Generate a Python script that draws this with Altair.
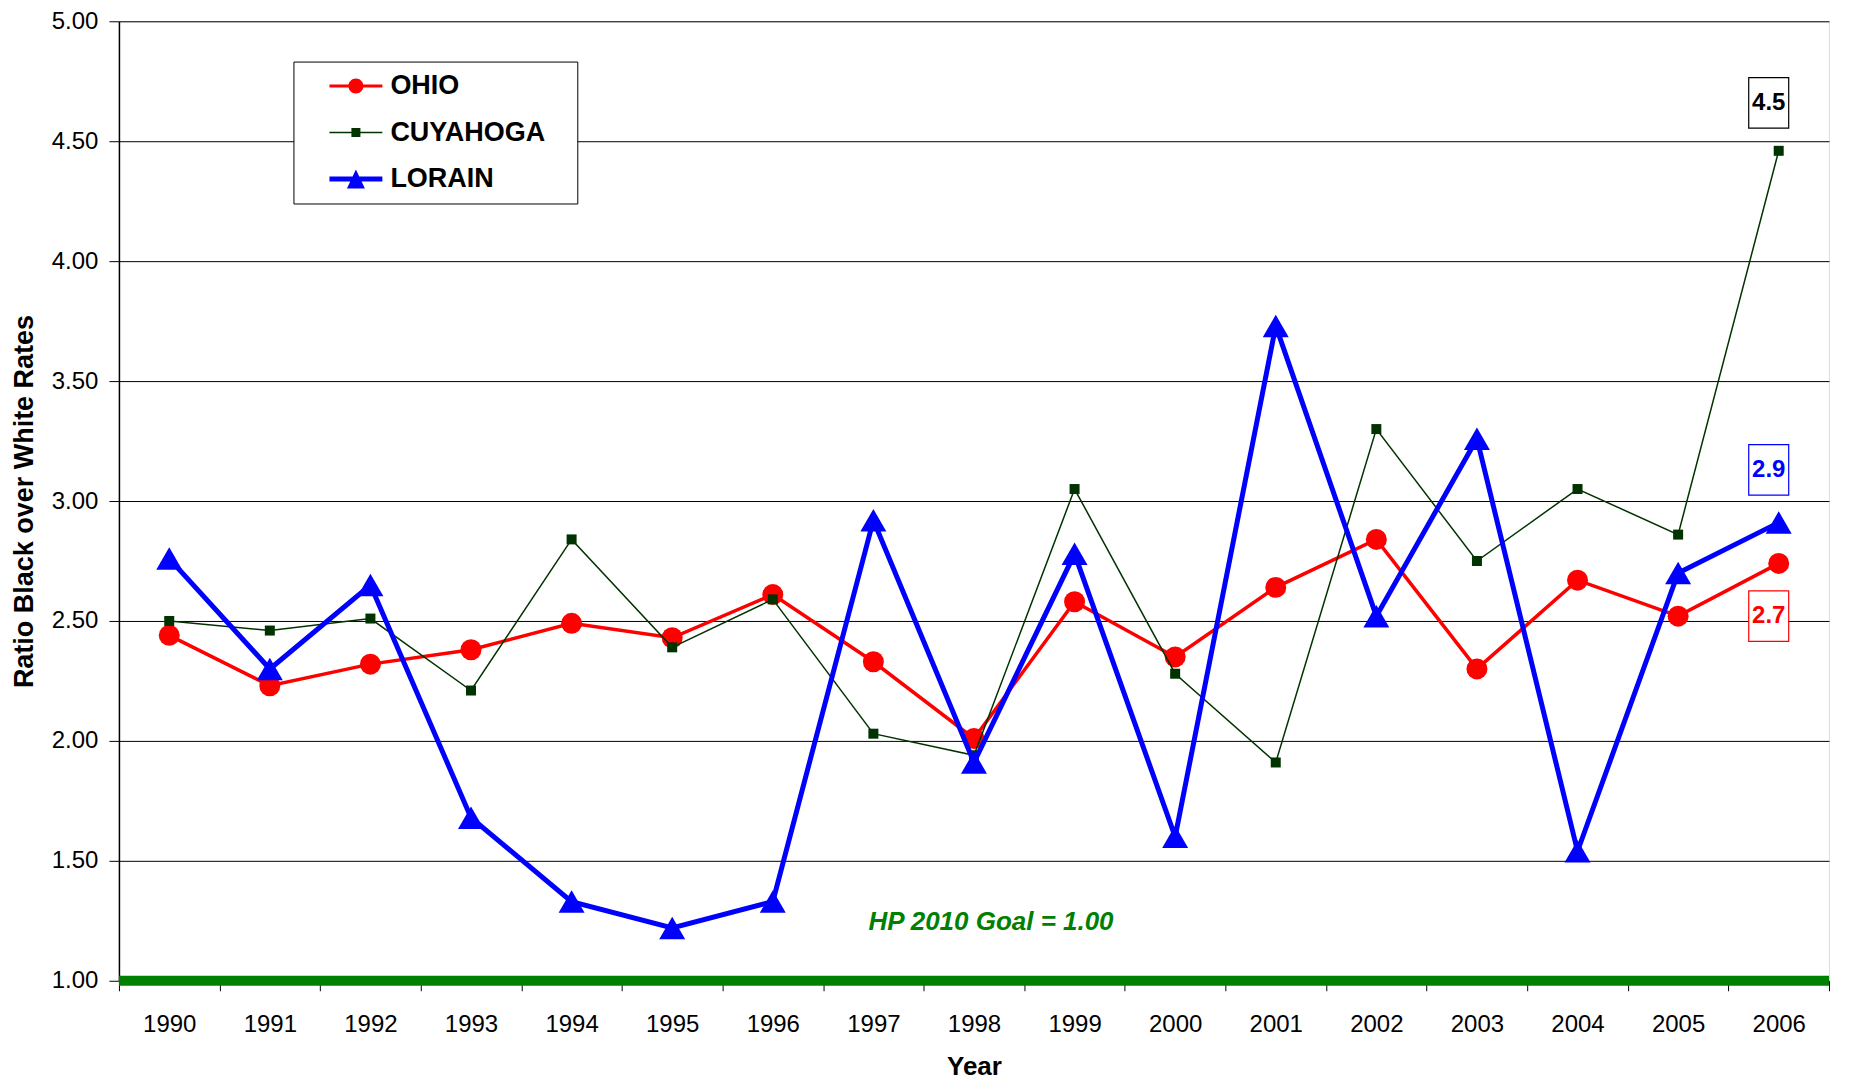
import altair as alt
import pandas as pd

# ---------------- data ----------------
years = [str(y) for y in range(1990, 2007)]
series_names = ["OHIO", "CUYAHOGA", "LORAIN"]
ohio = [2.44, 2.23, 2.32, 2.38, 2.49, 2.43, 2.61, 2.33, 2.01, 2.58, 2.35, 2.64, 2.84, 2.30, 2.67, 2.52, 2.74]
cuyahoga = [2.50, 2.46, 2.51, 2.21, 2.84, 2.39, 2.59, 2.03, 1.94, 3.05, 2.28, 1.91, 3.30, 2.75, 3.05, 2.86, 4.46]
lorain = [2.76, 2.30, 2.65, 1.68, 1.33, 1.22, 1.33, 2.92, 1.91, 2.78, 1.60, 3.73, 2.52, 3.26, 1.54, 2.70, 2.91]
series_values = [ohio, cuyahoga, lorain]

series_colors = ["#FF0000", "#003300", "#0000FF"]
line_widths = [3.5, 1.5, 5]
marker_shapes = ["circle", "square", "triangle-up"]
marker_sizes = [441, 100, 676]

# end-of-series callout boxes
label_texts = ["4.5", "2.9", "2.7"]
label_years = ["2006", "2006", "2006"]
label_centers = [4.66, 3.13, 2.52]
label_lo = [4.555, 3.025, 2.415]
label_hi = [4.765, 3.235, 2.625]
label_colors = ["#000000", "#0000FF", "#FF0000"]

goal_value = [1.0]
goal_text = ["HP 2010 Goal = 1.00"]
goal_text_year = ["1998"]
goal_text_y = [1.245]

y_ticks = [1.0, 1.5, 2.0, 2.5, 3.0, 3.5, 4.0, 4.5, 5.0]

FONT = "Liberation Sans"

# legend symbols (line + marker) as filled custom paths, unit = 7.5px
legend_paths = [
    "M-3.53,-0.2L3.53,-0.2L3.53,0.2L-3.53,0.2Z"
    "M-1,0A1,1,0,1,1,1,0A1,1,0,1,1,-1,0Z",
    "M-3.53,-0.1L3.53,-0.1L3.53,0.1L-3.53,0.1Z"
    "M-0.6,-0.6L0.6,-0.6L0.6,0.6L-0.6,0.6Z",
    "M-3.53,-0.33L3.53,-0.33L3.53,0.33L-3.53,0.33Z"
    "M0,-1.27L1.2,1.27L-1.2,1.27Z",
]

# ---------------- tables ----------------
rows = []
for name, vals in zip(series_names, series_values):
    for yr, v in zip(years, vals):
        rows.append({"series": name, "year": yr, "value": v})
df = pd.DataFrame(rows)

labels_df = pd.DataFrame({
    "text": label_texts, "year": label_years, "center": label_centers,
    "lo": label_lo, "hi": label_hi, "color": label_colors,
})
goal_df = pd.DataFrame({"value": goal_value})
goal_text_df = pd.DataFrame({"text": goal_text, "year": goal_text_year, "value": goal_text_y})
legend_df = pd.DataFrame({"series": series_names})

x_scale = alt.Scale(type="band", domain=years, paddingInner=0, paddingOuter=0)
y_scale = alt.Scale(domain=[1, 5], nice=False, zero=False)

x_enc = alt.X(
    "year:O", scale=x_scale, title="Year",
    axis=alt.Axis(labelAngle=0, tickBand="extent", tickSize=10, tickColor="#000",
                  labelPadding=22, titlePadding=17, domain=False, grid=False,
                  labelFont=FONT, labelFontSize=24, labelColor="#000",
                  titleFont=FONT, titleFontSize=26, titleFontWeight="bold", titleColor="#000"),
)
y_enc = alt.Y(
    "value:Q", scale=y_scale, title="Ratio Black over White Rates",
    axis=alt.Axis(values=y_ticks, format=".2f", grid=True, gridColor="#000", gridWidth=1,
                  tickSize=10, tickColor="#000", labelPadding=11, domainColor="#000",
                  domainWidth=1.5, labelFont=FONT, labelFontSize=24, labelColor="#000",
                  titleFont=FONT, titleFontSize=27, titleFontWeight="bold", titleColor="#000",
                  titlePadding=13),
)

layers = []

# goal line
layers.append(
    alt.Chart(goal_df).mark_rule(color="#008000", strokeWidth=10).encode(
        y=alt.Y("value:Q", scale=y_scale)
    )
)

for name, color, lw, shp, sz in zip(series_names, series_colors, line_widths, marker_shapes, marker_sizes):
    base = alt.Chart(df).transform_filter(alt.datum.series == name)
    layers.append(base.mark_line(color=color, strokeWidth=lw).encode(x=x_enc, y=y_enc))
    layers.append(base.mark_point(shape=shp, size=sz, filled=True, color=color, opacity=1).encode(
        x=alt.X("year:O", scale=x_scale), y=alt.Y("value:Q", scale=y_scale)))

# callout boxes
layers.append(
    alt.Chart(labels_df).mark_bar(width=40, xOffset=-10, fill="white", strokeWidth=1.2).encode(
        x=alt.X("year:O", scale=x_scale),
        y=alt.Y("lo:Q", scale=y_scale),
        y2="hi:Q",
        stroke=alt.Stroke("color:N", scale=None),
    )
)
layers.append(
    alt.Chart(labels_df).mark_text(dx=-10, font=FONT, fontSize=24, fontWeight="bold", baseline="middle").encode(
        x=alt.X("year:O", scale=x_scale),
        y=alt.Y("center:Q", scale=y_scale),
        text="text:N",
        color=alt.Color("color:N", scale=None),
    )
)

# goal annotation
layers.append(
    alt.Chart(goal_text_df).mark_text(dx=17, font=FONT, fontSize=26, fontWeight="bold", fontStyle="italic",
                                       color="#008000", baseline="middle").encode(
        x=alt.X("year:O", scale=x_scale),
        y=alt.Y("value:Q", scale=y_scale),
        text="text:N",
    )
)

# legend (legend-only marks parked outside the page)
leg = alt.Legend(title=None, orient="none", legendX=174.6, legendY=40.3, padding=11,
                 symbolOffset=38, labelOffset=21, rowPadding=18.5, symbolSize=225,
                 symbolOpacity=1, symbolStrokeWidth=0, labelFont=FONT, labelFontSize=27,
                 labelFontWeight="bold", labelColor="#000", strokeColor="#000", fillColor="white",
                 labelLimit=400, labelExpr="datum.label + '\u2800'")
layers.append(
    alt.Chart(legend_df).mark_point(filled=True, opacity=1, size=225).encode(
        x=alt.value(-3000), y=alt.value(-3000),
        color=alt.Color("series:N", scale=alt.Scale(domain=series_names, range=series_colors), legend=leg),
        shape=alt.Shape("series:N", scale=alt.Scale(domain=series_names, range=legend_paths)),
    )
)

chart = alt.layer(*layers).properties(
    width=1711, height=960,
    padding={"left": 111, "top": 13, "right": 14, "bottom": 99},
    autosize=alt.AutoSizeParams(type="none"),
).configure_view(stroke="#808080", strokeWidth=2).configure(background="white")

chart.save("out.html", embed_options={"renderer": "svg", "actions": False})
